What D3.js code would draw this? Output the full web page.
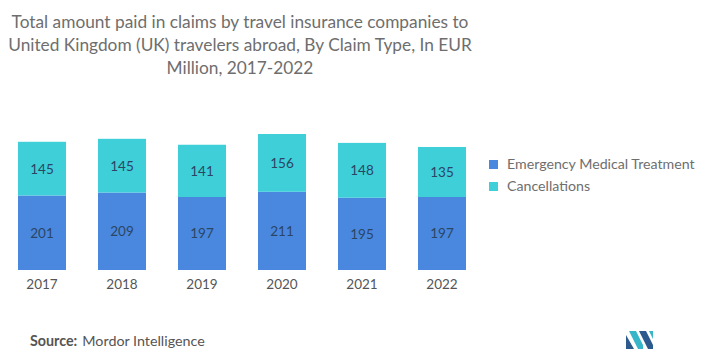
<!DOCTYPE html>
<html>
<head>
	<meta charset="utf-8">
	<title>D3</title>
	<script src="https://d3js.org/d3.v7.min.js"></script>
	<style>
		html, body {
			margin: 0;
			background: white;
			overflow: hidden;
		}
		text {
			font-family: Lato, "Open Sans", sans-serif;
		}
	</style>
</head>
<body>
	<svg id="svg"></svg>
	<script>
		const years = ["2017", "2018", "2019", "2020", "2021", "2022"];
		const seriesNames = ["Emergency Medical Treatment", "Cancellations"];
		const medical = [201, 209, 197, 211, 195, 197];
		const cancellations = [145, 145, 141, 156, 148, 135];
		const titleLines = [
			"Total amount paid in claims by travel insurance companies to",
			"United Kingdom (UK) travelers abroad, By Claim Type, In EUR",
			"Million, 2017-2022"
		];

		const width = 720, height = 362;
		const colors = ["#4a88e0", "#3fcfd9"];

		const svg = d3.select("#svg")
		.attr("width", width)
		.attr("height", height);

		const rows = years.map((y, i) => ({year: y, medical: medical[i], cancellations: cancellations[i]}));
		const stack = d3.stack().keys(["medical", "cancellations"])(rows);

		const scaleX = d3.scaleBand()
		.domain(years)
		.range([6, 478])
		.paddingInner(0.4)
		.paddingOuter(0.15);

		const scaleY = d3.scaleLinear()
		.domain([0, 367])
		.range([270, 134]);

		// title
		svg.append("g")
		.selectAll("text")
		.data(titleLines)
		.enter()
		.append("text")
		.attr("x", 240)
		.attr("y", (d, i) => 28 + i * 23)
		.attr("text-anchor", "middle")
		.attr("font-size", 17.3)
		.attr("fill", "#6e6e6e")
		.text(d => d);

		// bars
		const layers = svg.append("g")
		.selectAll("g")
		.data(stack)
		.enter()
		.append("g")
		.attr("fill", (d, i) => colors[i]);

		layers.selectAll("rect")
		.data(d => d)
		.enter()
		.append("rect")
		.attr("x", d => scaleX(d.data.year))
		.attr("width", scaleX.bandwidth())
		.attr("y", d => scaleY(d[1]))
		.attr("height", d => scaleY(d[0]) - scaleY(d[1]));

		layers.selectAll("text")
		.data(d => d)
		.enter()
		.append("text")
		.attr("x", d => scaleX(d.data.year) + scaleX.bandwidth() / 2)
		.attr("y", d => (scaleY(d[0]) + scaleY(d[1])) / 2 + 5)
		.attr("text-anchor", "middle")
		.attr("font-size", 13.5)
		.attr("fill", "#2a4662")
		.text(d => d[1] - d[0]);

		// x axis
		const xAxis = svg.append("g")
		.attr("transform", "translate(0, 270)")
		.call(d3.axisBottom(scaleX).tickSize(0).tickPadding(9));
		xAxis.select(".domain").remove();
		xAxis.selectAll("text")
		.attr("font-size", 13.5)
		.attr("font-family", "Lato, sans-serif")
		.attr("fill", "#555");

		// legend
		const legend = svg.append("g")
		.selectAll("g")
		.data(seriesNames)
		.enter()
		.append("g")
		.attr("transform", (d, i) => `translate(489, ${160 + i * 22})`);
		legend.append("rect")
		.attr("width", 9)
		.attr("height", 9)
		.attr("fill", (d, i) => colors[i]);
		legend.append("text")
		.attr("x", 18)
		.attr("y", 9)
		.attr("font-size", 14.2)
		.attr("fill", "#6e6e6e")
		.text(d => d);

		// source
		const src = svg.append("text")
		.attr("x", 30)
		.attr("y", 346)
		.attr("font-size", 14.3)
		.attr("fill", "#555");
		src.append("tspan").attr("font-weight", "bold").text("Source:");
		src.append("tspan").attr("dx", 5).text("Mordor Intelligence");

		// logo
		const logo = svg.append("g").attr("transform", "translate(626, 331)");
		logo.append("path").attr("d", "M0,18 L0,4 L8,18 Z").attr("fill", "#2c5a8c");
		logo.append("path").attr("d", "M3,0 L10,0 L17,14 L17,18 L12,18 Z").attr("fill", "#38b6c9");
		logo.append("path").attr("d", "M13,0 L20,0 L27,14 L27,18 L22,18 Z").attr("fill", "#2c5a8c");
		logo.append("path").attr("d", "M23,0 L27,0 L27,8 Z").attr("fill", "#38b6c9");
	</script>
</body>
</html>
